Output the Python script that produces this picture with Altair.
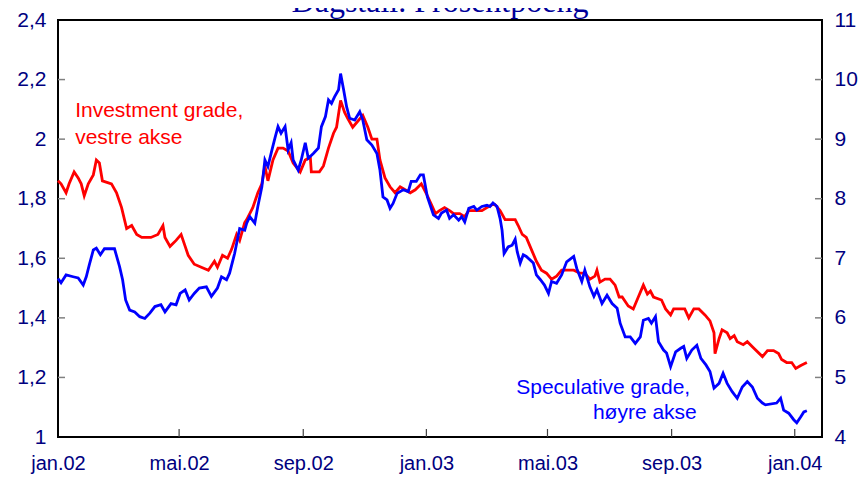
import altair as alt
import pandas as pd

# ---------------- data ----------------
red_dates = [
    "2002-01-01", "2002-01-04", "2002-01-09", "2002-01-12", "2002-01-17", "2002-01-21", "2002-01-24",
    "2002-01-27", "2002-01-31", "2002-02-05", "2002-02-08", "2002-02-11", "2002-02-14", "2002-02-23",
    "2002-02-28", "2002-03-05", "2002-03-10", "2002-03-15", "2002-03-20", "2002-03-25", "2002-03-30",
    "2002-04-03", "2002-04-10", "2002-04-15", "2002-04-17", "2002-04-22", "2002-04-28", "2002-05-03",
    "2002-05-07", "2002-05-10", "2002-05-16", "2002-05-23", "2002-05-30", "2002-06-05", "2002-06-08",
    "2002-06-13", "2002-06-18", "2002-06-22", "2002-06-27", "2002-06-30", "2002-07-05", "2002-07-07",
    "2002-07-10", "2002-07-13", "2002-07-18", "2002-07-22", "2002-07-25", "2002-07-28", "2002-08-02",
    "2002-08-07", "2002-08-12", "2002-08-17", "2002-08-22", "2002-08-29", "2002-09-03", "2002-09-08",
    "2002-09-09", "2002-09-17", "2002-09-21", "2002-09-26", "2002-10-01", "2002-10-04", "2002-10-08",
    "2002-10-12", "2002-10-15", "2002-10-20", "2002-10-25", "2002-10-30", "2002-11-04", "2002-11-08",
    "2002-11-13", "2002-11-16", "2002-11-21", "2002-11-26", "2002-12-01", "2002-12-06", "2002-12-11",
    "2002-12-16", "2002-12-21", "2002-12-27", "2003-01-02", "2003-01-06", "2003-01-10", "2003-01-14",
    "2003-01-19", "2003-01-24", "2003-01-28", "2003-02-03", "2003-02-08", "2003-02-12", "2003-02-18",
    "2003-02-25", "2003-03-02", "2003-03-07", "2003-03-10", "2003-03-15", "2003-03-20", "2003-03-30",
    "2003-04-02", "2003-04-06", "2003-04-10", "2003-04-15", "2003-04-20", "2003-04-25", "2003-04-30",
    "2003-05-05", "2003-05-10", "2003-05-15", "2003-05-27", "2003-06-02", "2003-06-07", "2003-06-12",
    "2003-06-17", "2003-06-19", "2003-06-22", "2003-06-27", "2003-07-02", "2003-07-07", "2003-07-11",
    "2003-07-14", "2003-07-20", "2003-07-25", "2003-07-30", "2003-08-04", "2003-08-08", "2003-08-11",
    "2003-08-14", "2003-08-22", "2003-08-26", "2003-08-31", "2003-09-03", "2003-09-14", "2003-09-18",
    "2003-09-23", "2003-09-28", "2003-10-04", "2003-10-09", "2003-10-13", "2003-10-14", "2003-10-18",
    "2003-10-21", "2003-10-26", "2003-10-29", "2003-11-02", "2003-11-05", "2003-11-11", "2003-11-15",
    "2003-11-21", "2003-11-30", "2003-12-05", "2003-12-11", "2003-12-16", "2003-12-19", "2003-12-24",
    "2003-12-29", "2004-01-02", "2004-01-07", "2004-01-13",
]
red_values = [
    1.86, 1.85, 1.82, 1.85, 1.89, 1.87, 1.85,
    1.81, 1.85, 1.88, 1.93, 1.92, 1.86, 1.85,
    1.82, 1.77, 1.70, 1.71, 1.68, 1.67, 1.67,
    1.67, 1.68, 1.71, 1.67, 1.64, 1.66, 1.68,
    1.64, 1.61, 1.58, 1.57, 1.56, 1.59, 1.57,
    1.61, 1.60, 1.63, 1.68, 1.66, 1.72, 1.73,
    1.75, 1.77, 1.82, 1.85, 1.91, 1.86, 1.93,
    1.97, 1.97, 1.96, 1.92, 1.89, 1.93, 1.94,
    1.89, 1.89, 1.91, 1.97, 2.02, 2.04, 2.13,
    2.09, 2.07, 2.04, 2.06, 2.08, 2.04, 2.00,
    2.00, 1.93, 1.87, 1.84, 1.82, 1.84, 1.83,
    1.82, 1.83, 1.85, 1.81, 1.78, 1.75, 1.76,
    1.77, 1.76, 1.75, 1.75, 1.74, 1.76, 1.76,
    1.76, 1.77, 1.78, 1.78, 1.76, 1.73, 1.73,
    1.71, 1.68, 1.67, 1.63, 1.59, 1.56, 1.55,
    1.53, 1.54, 1.56, 1.56, 1.55, 1.55, 1.53,
    1.54, 1.56, 1.52, 1.53, 1.53, 1.51, 1.47,
    1.47, 1.44, 1.43, 1.47, 1.51, 1.48, 1.49,
    1.47, 1.46, 1.43, 1.41, 1.43, 1.43, 1.40,
    1.43, 1.43, 1.41, 1.39, 1.35, 1.28, 1.33,
    1.36, 1.35, 1.33, 1.34, 1.32, 1.31, 1.32,
    1.30, 1.27, 1.29, 1.29, 1.28, 1.26, 1.25,
    1.25, 1.23, 1.24, 1.25,
]

blue_dates = [
    "2002-01-01", "2002-01-04", "2002-01-09", "2002-01-16", "2002-01-21", "2002-01-26", "2002-01-29",
    "2002-02-01", "2002-02-05", "2002-02-08", "2002-02-12", "2002-02-16", "2002-02-26", "2002-03-03",
    "2002-03-06", "2002-03-09", "2002-03-13", "2002-03-18", "2002-03-23", "2002-03-28", "2002-04-02",
    "2002-04-07", "2002-04-13", "2002-04-17", "2002-04-23", "2002-04-28", "2002-05-02", "2002-05-07",
    "2002-05-11", "2002-05-16", "2002-05-21", "2002-05-28", "2002-06-02", "2002-06-08", "2002-06-12",
    "2002-06-17", "2002-06-20", "2002-06-25", "2002-06-30", "2002-07-05", "2002-07-07", "2002-07-10",
    "2002-07-15", "2002-07-18", "2002-07-22", "2002-07-25", "2002-07-28", "2002-08-01", "2002-08-04",
    "2002-08-07", "2002-08-10", "2002-08-14", "2002-08-17", "2002-08-20", "2002-08-22", "2002-08-27",
    "2002-08-30", "2002-09-03", "2002-09-06", "2002-09-11", "2002-09-16", "2002-09-19", "2002-09-23",
    "2002-09-26", "2002-09-29", "2002-10-02", "2002-10-06", "2002-10-08", "2002-10-11", "2002-10-14",
    "2002-10-17", "2002-10-22", "2002-10-27", "2002-10-30", "2002-11-03", "2002-11-08", "2002-11-13",
    "2002-11-16", "2002-11-19", "2002-11-23", "2002-11-26", "2002-11-29", "2002-12-03", "2002-12-09",
    "2002-12-14", "2002-12-17", "2002-12-22", "2002-12-26", "2002-12-29", "2003-01-02", "2003-01-08",
    "2003-01-13", "2003-01-16", "2003-01-21", "2003-01-24", "2003-01-28", "2003-02-02", "2003-02-05",
    "2003-02-08", "2003-02-12", "2003-02-17", "2003-02-20", "2003-02-25", "2003-03-02", "2003-03-05",
    "2003-03-08", "2003-03-12", "2003-03-15", "2003-03-17", "2003-03-19", "2003-03-23", "2003-03-27",
    "2003-03-30", "2003-04-01", "2003-04-04", "2003-04-07", "2003-04-10", "2003-04-17", "2003-04-20",
    "2003-04-24", "2003-04-28", "2003-05-02", "2003-05-05", "2003-05-10", "2003-05-15", "2003-05-20",
    "2003-05-27", "2003-05-30", "2003-06-04", "2003-06-07", "2003-06-12", "2003-06-16", "2003-06-19",
    "2003-06-24", "2003-06-29", "2003-07-04", "2003-07-09", "2003-07-12", "2003-07-17", "2003-07-22",
    "2003-07-27", "2003-08-01", "2003-08-04", "2003-08-09", "2003-08-12", "2003-08-16", "2003-08-19",
    "2003-08-24", "2003-08-27", "2003-08-31", "2003-09-05", "2003-09-10", "2003-09-13", "2003-09-16",
    "2003-09-21", "2003-09-26", "2003-09-30", "2003-10-05", "2003-10-09", "2003-10-13", "2003-10-18",
    "2003-10-22", "2003-10-26", "2003-10-31", "2003-11-05", "2003-11-10", "2003-11-15", "2003-11-20",
    "2003-11-25", "2003-11-30", "2003-12-03", "2003-12-14", "2003-12-18", "2003-12-21", "2003-12-26",
    "2003-12-31", "2004-01-03", "2004-01-07", "2004-01-10", "2004-01-13",
]
blue_values = [
    6.66, 6.59, 6.72, 6.69, 6.67, 6.55, 6.69,
    6.89, 7.14, 7.17, 7.06, 7.16, 7.16, 6.86,
    6.64, 6.30, 6.13, 6.10, 6.02, 5.99, 6.08,
    6.19, 6.22, 6.10, 6.24, 6.22, 6.41, 6.47,
    6.30, 6.41, 6.50, 6.52, 6.36, 6.50, 6.69,
    6.64, 6.75, 7.08, 7.50, 7.47, 7.59, 7.70,
    7.59, 7.87, 8.20, 8.65, 8.54, 8.82, 9.02,
    9.21, 9.10, 9.21, 8.82, 8.94, 8.65, 8.48,
    8.65, 8.94, 8.68, 8.76, 8.85, 9.21, 9.38,
    9.66, 9.60, 9.71, 9.83, 10.10, 9.83, 9.54,
    9.35, 9.32, 9.46, 9.32, 8.99, 8.90, 8.76,
    8.48, 8.03, 7.98, 7.84, 7.92, 8.09, 8.15,
    8.12, 8.29, 8.29, 8.40, 8.40, 8.03, 7.73,
    7.67, 7.76, 7.81, 7.67, 7.73, 7.64, 7.70,
    7.61, 7.84, 7.87, 7.81, 7.87, 7.89, 7.87,
    7.93, 7.87, 7.67, 7.47, 7.08, 7.19, 7.22,
    7.32, 7.11, 6.92, 7.06, 7.03, 6.92, 6.72,
    6.64, 6.55, 6.41, 6.61, 6.58, 6.72, 6.94,
    7.03, 6.83, 6.61, 6.80, 6.52, 6.36, 6.47,
    6.24, 6.38, 6.24, 6.16, 5.91, 5.68, 5.68,
    5.57, 5.68, 5.96, 5.99, 5.91, 6.02, 5.60,
    5.46, 5.41, 5.18, 5.43, 5.49, 5.52, 5.32,
    5.46, 5.54, 5.32, 5.21, 5.10, 4.82, 4.90,
    5.07, 4.90, 4.76, 4.65, 4.84, 4.93, 4.84,
    4.65, 4.57, 4.54, 4.57, 4.65, 4.45, 4.40,
    4.29, 4.24, 4.34, 4.42, 4.44,
]

x_tick_dates = ["2002-01-01", "2002-05-01", "2002-09-01", "2003-01-01",
                "2003-05-01", "2003-09-01", "2004-01-01"]
x_tick_labels = ["jan.02", "mai.02", "sep.02", "jan.03", "mai.03", "sep.03", "jan.04"]
x_domain = ["2002-01-01", "2004-01-28"]

left_ticks = [1.0, 1.2, 1.4, 1.6, 1.8, 2.0, 2.2, 2.4]
right_ticks = [4, 5, 6, 7, 8, 9, 10, 11]
left_domain = [1.0, 2.4]
right_domain = [4, 11]

red_label_lines = ["Investment grade,", "vestre akse"]
red_label_dates = ["2002-01-18", "2002-01-18"]
red_label_values = [2.095, 2.005]
blue_label_lines = ["Speculative grade,", "høyre akse"]
blue_label_dates = ["2003-03-31", "2003-06-15"]
blue_label_values = [4.82, 4.41]

title_text = "Dagstall. Prosentpoeng"

# ---------------- helpers ----------------
NAVY = "#000080"
FONT = "Liberation Sans"


def ms(d):
    return int(pd.Timestamp(d, tz="UTC").value // 10**6)


x_scale = alt.Scale(type="utc", domain=[ms(d) for d in x_domain], nice=False)
yl_scale = alt.Scale(domain=left_domain, nice=False, zero=False)
yr_scale = alt.Scale(domain=right_domain, nice=False, zero=False)

label_expr = "''"
for d, lab in reversed(list(zip(x_tick_dates, x_tick_labels))):
    label_expr = f"utcFormat(datum.value, '%Y-%m-%d') == '{d}' ? '{lab}' : ({label_expr})"

x_axis = alt.Axis(values=[ms(d) for d in x_tick_dates], labelExpr=label_expr,
                  domain=False, ticks=False, grid=False, labelFont=FONT,
                  labelFontSize=20, labelColor=NAVY, labelPadding=16,
                  labelFlush=False, labelOverlap=False, title=None)
yl_axis = alt.Axis(orient="left", values=left_ticks, domain=False, ticks=False,
                   grid=False, labelFont=FONT, labelFontSize=21, labelColor=NAVY,
                   labelPadding=12, labelFlush=False, labelOverlap=False, title=None,
                   labelExpr="replace(format(datum.value, '.1~f'), '.', ',')")
yr_axis = alt.Axis(orient="right", values=right_ticks, domain=False, ticks=False,
                   grid=False, labelFont=FONT, labelFontSize=21, labelColor=NAVY,
                   labelPadding=12, labelFlush=False, labelOverlap=False, title=None)

red_df = pd.DataFrame({"date": pd.to_datetime(red_dates), "value": red_values})
blue_df = pd.DataFrame({"date": pd.to_datetime(blue_dates), "value": blue_values})
red_lab_df = pd.DataFrame({"date": pd.to_datetime(red_label_dates), "value": red_label_values,
                           "text": red_label_lines})
blue_lab_df = pd.DataFrame({"date": pd.to_datetime(blue_label_dates), "value": blue_label_values,
                            "text": blue_label_lines})
lt_df = pd.DataFrame({"value": left_ticks[1:-1]})
rt_df = pd.DataFrame({"value": right_ticks[1:-1]})
xt_df = pd.DataFrame({"date": pd.to_datetime(x_tick_dates[1:])})
title_df = pd.DataFrame({"t": [title_text]})

W, H = 764, 417

X = alt.X("date:T", scale=x_scale, axis=x_axis)
YL = alt.Y("value:Q", scale=yl_scale, axis=yl_axis)
YR = alt.Y("value:Q", scale=yr_scale, axis=yr_axis)

red_line = alt.Chart(red_df).mark_line(color="#FF0000", strokeWidth=2.8).encode(x=X, y=YL)
red_tick = alt.Chart(lt_df).mark_rule(color="#808080", strokeWidth=1.5).encode(
    y=YL, x=alt.value(0), x2=alt.value(7))
red_text = alt.Chart(red_lab_df).mark_text(
    align="left", baseline="middle", font=FONT, fontSize=21, color="#FF0000"
).encode(x=X, y=YL, text="text:N")

blue_line = alt.Chart(blue_df).mark_line(color="#0000FF", strokeWidth=2.8).encode(x=X, y=YR)
blue_tick = alt.Chart(rt_df).mark_rule(color="#808080", strokeWidth=1.5).encode(
    y=YR, x=alt.value(W - 7), x2=alt.value(W))
blue_text = alt.Chart(blue_lab_df).mark_text(
    align="left", baseline="middle", font=FONT, fontSize=21, color="#0000FF"
).encode(x=X, y=YR, text="text:N")

x_tick = alt.Chart(xt_df).mark_rule(color="#404040", strokeWidth=1.2).encode(
    x=X, y=alt.value(H - 8), y2=alt.value(H))

title = alt.Chart(title_df).mark_text(
    align="center", baseline="alphabetic", font="Liberation Serif", fontSize=32,
    color="#000099"
).encode(x=alt.value(382), y=alt.value(-8), text="t:N")

left = alt.layer(red_line, red_tick, red_text)
right = alt.layer(blue_line, blue_tick, blue_text)

chart = alt.layer(left, right, x_tick, title).resolve_scale(y="independent").properties(
    width=W, height=H,
    autosize=alt.AutoSizeParams(type="none"),
    padding={"left": 50, "top": 12, "right": 36, "bottom": 40},
).configure(background="white").configure_view(stroke="black", strokeWidth=2)

chart.save("out.html", embed_options={"renderer": "svg", "actions": False})
